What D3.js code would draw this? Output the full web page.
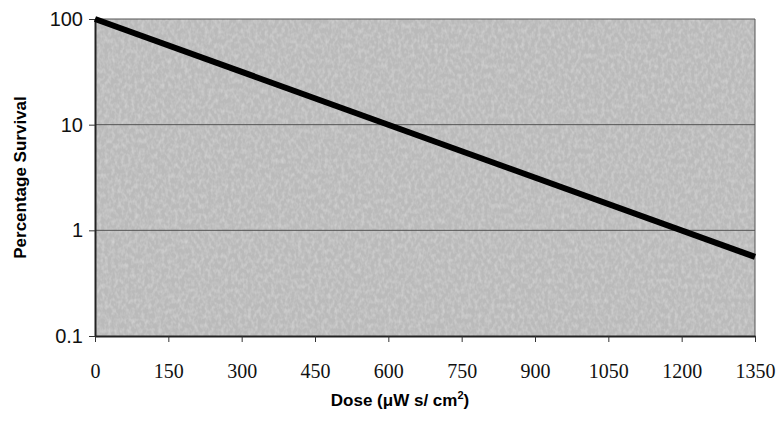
<!DOCTYPE html>
<html>
<head>
<meta charset="utf-8">
<script src="https://cdn.jsdelivr.net/npm/d3@7"></script>
<style>
  body { margin: 0; background: #ffffff; }
</style>
</head>
<body>
<div id="chart"></div>
<script>
// survival curve: straight line on log scale
var dose = [0, 1350];
var survival = [100, 0.56];
var xTicks = [0, 150, 300, 450, 600, 750, 900, 1050, 1200, 1350];
var yTicks = [0.1, 1, 10, 100];

var margin = {top: 19, right: 26, bottom: 98, left: 95},
    width = 781 - margin.left - margin.right,
    height = 434 - margin.top - margin.bottom;

var svg = d3.select("#chart")
  .append("svg")
    .attr("width", 781)
    .attr("height", 434);

// grainy grey plot background
var defs = svg.append("defs");
var f = defs.append("filter").attr("id", "grain")
  .attr("x", 0).attr("y", 0).attr("width", "100%").attr("height", "100%");
f.append("feTurbulence")
  .attr("type", "fractalNoise")
  .attr("baseFrequency", "0.3 0.2")
  .attr("numOctaves", 2)
  .attr("seed", 3);
f.append("feColorMatrix")
  .attr("type", "matrix")
  .attr("values", "0 0 0 0 1  0 0 0 0 1  0 0 0 0 1  0 0 0 1.2 -0.45");

var g = svg.append("g")
  .attr("transform", "translate(" + margin.left + "," + margin.top + ")");

var x = d3.scaleLinear()
  .domain([0, 1350])
  .range([0, width]);

var y = d3.scaleLog()
  .domain([0.1, 100])
  .range([height, 0]);

g.append("rect")
  .attr("width", width)
  .attr("height", height)
  .attr("fill", "#bababa");
g.append("rect")
  .attr("width", width)
  .attr("height", height)
  .attr("filter", "url(#grain)")
  .attr("opacity", 0.5);

// gridlines (including top border at 100)
g.append("g")
  .selectAll("line")
  .data(yTicks.slice(1))
  .enter()
  .append("line")
    .attr("x1", 0)
    .attr("x2", width)
    .attr("y1", function (d) { return y(d); })
    .attr("y2", function (d) { return y(d); })
    .attr("stroke", "#555555")
    .attr("stroke-width", 1);

// right border
g.append("line")
  .attr("x1", width).attr("x2", width)
  .attr("y1", 0).attr("y2", height)
  .attr("stroke", "#555555");

// X axis
var xAxis = g.append("g")
  .attr("transform", "translate(0," + height + ")")
  .call(d3.axisBottom(x).tickValues(xTicks).tickFormat(d3.format("d")).tickSize(6).tickSizeOuter(0).tickPadding(22));
xAxis.select(".domain").attr("stroke", "#222222").attr("stroke-width", 2);
xAxis.selectAll(".tick line").attr("stroke", "#333333");
xAxis.selectAll("text")
  .style("font-family", "'Liberation Serif', 'Times New Roman', serif")
  .style("font-size", "20px")
  .style("fill", "#111111");

// Y axis
var yAxis = g.append("g")
  .call(d3.axisLeft(y).tickValues(yTicks).tickFormat(d3.format("~g")).tickSize(6).tickSizeOuter(0).tickPadding(6));
yAxis.select(".domain").attr("stroke", "#222222").attr("stroke-width", 2);
yAxis.selectAll(".tick line").attr("stroke", "#333333");
yAxis.selectAll("text")
  .style("font-family", "'Liberation Sans', Arial, sans-serif")
  .style("font-size", "20px")
  .style("fill", "#111111");

// survival line
var line = d3.line()
  .x(function (d) { return x(d[0]); })
  .y(function (d) { return y(d[1]); });

g.append("path")
  .datum(d3.zip(dose, survival))
  .attr("d", line)
  .attr("fill", "none")
  .attr("stroke", "#000000")
  .attr("stroke-width", 6);

// axis titles
svg.append("text")
  .attr("x", 400)
  .attr("y", 406)
  .attr("text-anchor", "middle")
  .style("font-family", "'Liberation Sans', Arial, sans-serif")
  .style("font-weight", "bold")
  .style("font-size", "17px")
  .html("Dose (&#956;W s/ cm<tspan dy='-7' font-size='11px'>2</tspan><tspan dy='7'>)</tspan>");

svg.append("text")
  .attr("transform", "translate(26," + (margin.top + height / 2) + ") rotate(-90)")
  .attr("text-anchor", "middle")
  .style("font-family", "'Liberation Sans', Arial, sans-serif")
  .style("font-weight", "bold")
  .style("font-size", "17px")
  .text("Percentage Survival");
</script>
</body>
</html>
